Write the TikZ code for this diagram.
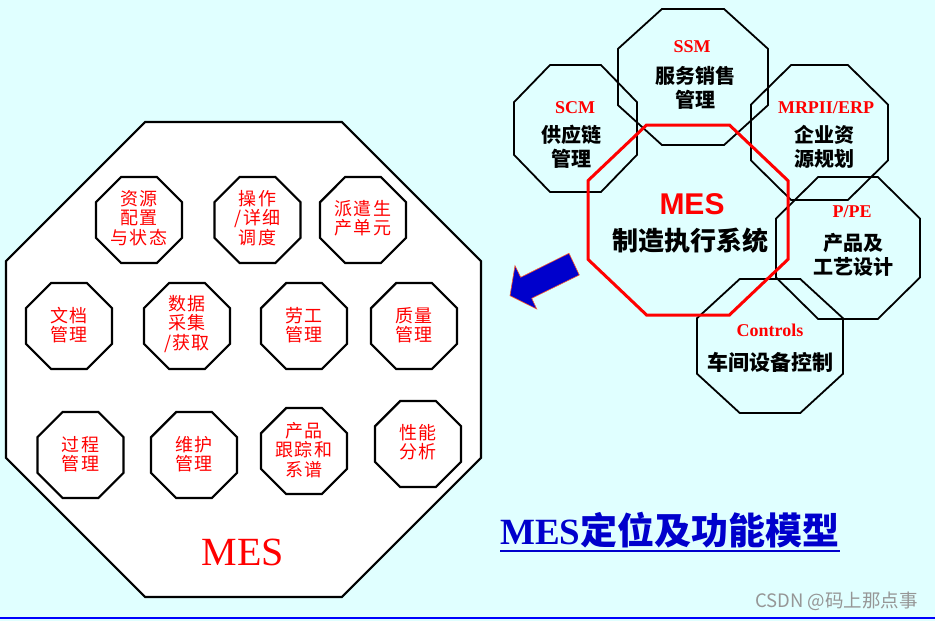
\documentclass[tikz,border=0pt]{standalone}
\usepackage{fontspec}
\setmainfont{Liberation Serif}
\newfontfamily\cjk{Noto Sans CJK SC}
\newfontfamily\cjksp{Noto Sans CJK SC}[LetterSpace=8]
\newfontfamily\arialf{Liberation Sans}
\definecolor{bgcyan}{RGB}{224,255,255}
\definecolor{ttlblue}{RGB}{0,0,204}
\definecolor{arrowedge}{RGB}{255,90,40}
\definecolor{wmgray}{RGB}{150,150,150}
\newcommand\myoct[5][]{\draw[#1,shift={(#2,#3)},xscale=#4,yscale=#5] (-0.4142,-1) -- (0.4142,-1) -- (1,-0.4142) -- (1,0.4142) -- (0.4142,1) -- (-0.4142,1) -- (-1,0.4142) -- (-1,-0.4142) -- cycle;}
\tikzset{
  bigoct/.style={draw=black, line width=2.2pt, fill=white},
  smalloct/.style={draw=black, line width=2.2pt, fill=white},
  rightoct/.style={draw=black, line width=1.8pt},
  mesoct/.style={draw=red, line width=3pt},
  fn/.style={font=\cjksp\fontsize{18}{19.5}\selectfont, text=red, align=center, inner sep=0pt},
  rlab/.style={font=\bfseries\fontsize{18}{20}\selectfont, text=red, inner sep=0pt},
  rcjk/.style={font=\cjk\bfseries\fontsize{20}{24}\selectfont, text=black, align=center, inner sep=0pt},
}
\begin{document}
\begin{tikzpicture}[x=1pt,y=-1pt]
\useasboundingbox (0,0) rectangle (935,621);
\fill[bgcyan] (0,0) rectangle (935,621);
\draw[blue, line width=1.2pt] (0,618) -- (935,618);

% left big octagon
\myoct[bigoct]{243.5}{359.5}{237.5}{237.5}
% small octagons
\myoct[smalloct]{139}{220}{43}{43}
\myoct[smalloct]{257.5}{220}{43}{43}
\myoct[smalloct]{363}{220}{43}{43}
\myoct[smalloct]{69}{326}{43}{43}
\myoct[smalloct]{187}{326}{43}{43}
\myoct[smalloct]{304}{326}{43}{43}
\myoct[smalloct]{414}{326}{43}{43}
\myoct[smalloct]{80.5}{455}{43}{43}
\myoct[smalloct]{194}{455}{43}{43}
\myoct[smalloct]{304}{451}{43}{43}
\myoct[smalloct]{418}{444}{43}{43}

\node[fn] (f1) at (139,218) {资源\\配置\\与状态};
\node[fn] (f2) at (257.5,218) {操作\\/详细\\调度};
\node[fn] (f3) at (363,218) {派遣生\\产单元};
\node[fn] (f4) at (69,325) {文档\\管理};
\node[fn] (f5) at (187,324) {数据\\采集\\/获取};
\node[fn] (f6) at (304,325) {劳工\\管理};
\node[fn] (f7) at (414,325) {质量\\管理};
\node[fn] (f8) at (80.5,454) {过程\\管理};
\node[fn] (f9) at (194,454) {维护\\管理};
\node[fn] (f10) at (304,450) {产品\\跟踪和\\系谱};
\node[fn] (f11) at (418,442) {性能\\分析};

\node[font=\fontsize{40}{44}\selectfont, text=red, inner sep=0pt] (mesbig) at (243,552) {MES};

% right cluster
\myoct[rightoct]{693}{77}{75}{68}
\myoct[rightoct]{575.5}{128.5}{61.5}{63.5}
\myoct[rightoct]{819.5}{132.5}{68.5}{67.5}
\myoct[rightoct]{848}{248}{72}{71}
\myoct[rightoct]{770}{346}{73}{67}
\myoct[mesoct]{688}{220}{100}{95}

\node[rlab] (ssml) at (692,47) {SSM};
\node[rcjk] (ssmc) at (695,88) {服务销售\\管理};
\node[rlab] (scml) at (575,108) {SCM};
\node[rcjk] (scmc) at (571,147) {供应链\\管理};
\node[rlab] (erpl) at (826,108) {MRPII/ERP};
\node[rcjk] (erpc) at (824,147) {企业资\\源规划};
\node[rlab] (ppel) at (852,212) {P/PE};
\node[rcjk] (ppec) at (853,255) {产品及\\工艺设计};
\node[rlab] (ctll) at (770,330) {Controls};
\node[rcjk, font=\cjk\bfseries\fontsize{21}{24}\selectfont] (ctlc) at (770,362) {车间设备控制};
\node[font=\arialf\bfseries\fontsize{30}{32}\selectfont, text=red, inner sep=0pt] (mesr) at (692,204) {MES};
\node[font=\cjk\bfseries\fontsize{26}{28}\selectfont, inner sep=0pt] (mesrc) at (690,241) {制造执行系统};

% blue arrow
\filldraw[fill=ttlblue, draw=arrowedge, line width=0.6pt]
  (510,295.7) -- (515,265.7) -- (520.7,277.3) -- (569,253.3) -- (579.3,275) -- (531.7,298.3) -- (536.7,309) -- cycle;

% title
\node[anchor=base west, inner sep=0pt, text=ttlblue, font=\bfseries\fontsize{37}{40}\selectfont] (title) at (500,544) {MES{\cjk\bfseries 定位及功能模型}};
\draw[ttlblue, line width=2pt] ([yshift=-7pt]title.base west) -- ([yshift=-7pt]title.base east);

% watermark
\node[anchor=east, inner sep=0pt, text=wmgray, font=\cjk\fontsize{18.5}{20}\selectfont] (wm) at (918,601) {CSDN @码上那点事};
\end{tikzpicture}
\end{document}
